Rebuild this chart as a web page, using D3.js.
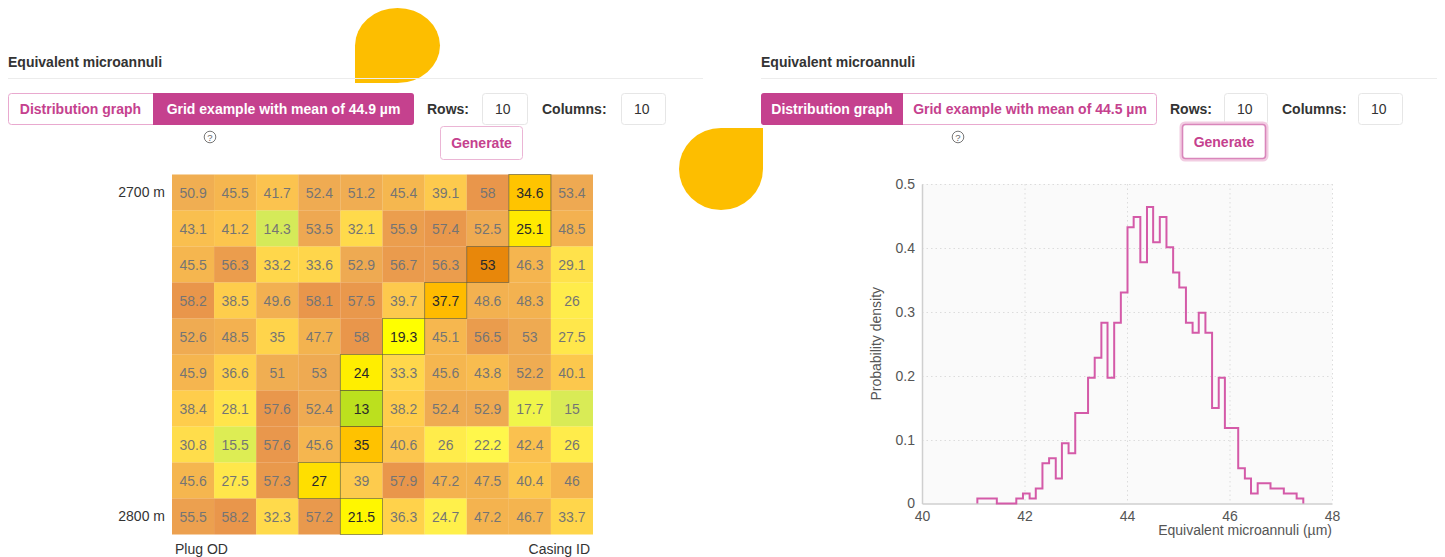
<!DOCTYPE html>
<html>
<head>
<meta charset="utf-8">
<script src="https://cdn.jsdelivr.net/npm/d3@7"></script>
<style>
  html, body { margin: 0; padding: 0; background: #fff; }
  svg { display: block; font-family: "Liberation Sans", Arial, Helvetica, sans-serif; }
</style>
</head>
<body>
<svg id="page" width="1445" height="557"></svg>
<script>
// ---- Grid example: equivalent microannuli per cell (µm), rows from 2700 m down to 2800 m
const gridRow0 = [50.9, 45.5, 41.7, 52.4, 51.2, 45.4, 39.1, 58, 34.6, 53.4];
const gridRow1 = [43.1, 41.2, 14.3, 53.5, 32.1, 55.9, 57.4, 52.5, 25.1, 48.5];
const gridRow2 = [45.5, 56.3, 33.2, 33.6, 52.9, 56.7, 56.3, 53, 46.3, 29.1];
const gridRow3 = [58.2, 38.5, 49.6, 58.1, 57.5, 39.7, 37.7, 48.6, 48.3, 26];
const gridRow4 = [52.6, 48.5, 35, 47.7, 58, 19.3, 45.1, 56.5, 53, 27.5];
const gridRow5 = [45.9, 36.6, 51, 53, 24, 33.3, 45.6, 43.8, 52.2, 40.1];
const gridRow6 = [38.4, 28.1, 57.6, 52.4, 13, 38.2, 52.4, 52.9, 17.7, 15];
const gridRow7 = [30.8, 15.5, 57.6, 45.6, 35, 40.6, 26, 22.2, 42.4, 26];
const gridRow8 = [45.6, 27.5, 57.3, 27, 39, 57.9, 47.2, 47.5, 40.4, 46];
const gridRow9 = [55.5, 58.2, 32.3, 57.2, 21.5, 36.3, 24.7, 47.2, 46.7, 33.7];
const gridRows = [gridRow0, gridRow1, gridRow2, gridRow3, gridRow4, gridRow5, gridRow6, gridRow7, gridRow8, gridRow9];
// column of the flow-path cell in each row
const pathColumns = [8, 8, 7, 6, 5, 4, 4, 4, 3, 4];
const depthLabels = ["2700 m", "", "", "", "", "", "", "", "", "2800 m"];
const sideLabels = ["Plug OD", "Casing ID"];

// colour ramp for cell values
const colorStops = [13, 15, 17.7, 19.3, 24, 27, 33, 37.7, 41.7, 45.5, 53, 58];
const colorRamp = ["#bce01e", "#c9e30f", "#eaf100", "#ffff00", "#ffee00", "#ffdf00",
                   "#ffc800", "#ffbb00", "#faab05", "#f29805", "#e8870a", "#e06a00"];

// ---- Distribution graph: histogram of equivalent microannuli
const binEdges = [41.08, 41.21, 41.33, 41.46, 41.59, 41.72, 41.84, 41.97, 42.10, 42.22,
                  42.35, 42.48, 42.61, 42.73, 42.86, 42.99, 43.12, 43.24, 43.37, 43.50,
                  43.62, 43.75, 43.88, 44.01, 44.13, 44.26, 44.39, 44.51, 44.64, 44.77,
                  44.90, 45.02, 45.15, 45.28, 45.40, 45.53, 45.66, 45.79, 45.91, 46.04,
                  46.17, 46.30, 46.42, 46.55, 46.68, 46.80, 46.93, 47.06, 47.19, 47.31, 47.44];
const density = [0.0079, 0.0079, 0.0079, 0, 0, 0, 0.0079, 0.0157, 0.0079, 0.0236,
                 0.0629, 0.0708, 0.0393, 0.0944, 0.0787, 0.1415, 0.1415, 0.1966, 0.2280, 0.2830,
                 0.1966, 0.2830, 0.3302, 0.4325, 0.4482, 0.3774, 0.4639, 0.4089, 0.4482, 0.4010,
                 0.3616, 0.3381, 0.2830, 0.2673, 0.2987, 0.2673, 0.1494, 0.1966, 0.1180, 0.1180,
                 0.0550, 0.0393, 0.0157, 0.0315, 0.0315, 0.0236, 0.0236, 0.0157, 0.0157, 0.0079];
const xTicks = [40, 42, 44, 46, 48];
const yTicks = [0, 0.1, 0.2, 0.3, 0.4, 0.5];

const PINK = "#c5418e";
const LINE_PINK = "#d45aa8";
const TEXT = "#333";
const YELLOW = "#fdbe00";

const svg = d3.select("#page");

// ---------- decorative blobs ----------
function blob(x0, y0, x1, y1, squareCorner) {
  const rx = (x1 - x0) / 2, ry = (y1 - y0) / 2, cx = x0 + rx, cy = y0 + ry;
  if (squareCorner === "bl") {
    return `M${x0},${y1}L${x0},${cy}A${rx},${ry} 0 0 1 ${cx},${y0}A${rx},${ry} 0 0 1 ${x1},${cy}A${rx},${ry} 0 0 1 ${cx},${y1}Z`;
  }
  return `M${x1},${y0}L${x1},${cy}A${rx},${ry} 0 0 1 ${cx},${y1}A${rx},${ry} 0 0 1 ${x0},${cy}A${rx},${ry} 0 0 1 ${cx},${y0}Z`;
}
svg.append("path").attr("d", blob(355, 8, 440, 83, "bl")).attr("fill", YELLOW);
svg.append("path").attr("d", blob(679, 128, 763, 210, "tr")).attr("fill", YELLOW);

// ---------- panel header & controls ----------
function panel(g, o) {
  g.append("text").attr("x", o.x).attr("y", 67).text("Equivalent microannuli")
    .attr("font-size", 14).attr("font-weight", "bold").attr("fill", TEXT);
  g.append("line").attr("x1", o.x).attr("x2", o.lineEnd).attr("y1", 78.5).attr("y2", 78.5)
    .attr("stroke", "#ececec");

  // toggle group
  const t = o.toggle;
  g.append("rect").attr("x", t[0] + 0.5).attr("y", 93.5).attr("width", t[2] - t[0] - 1).attr("height", 31)
    .attr("rx", 3).attr("fill", "#fff").attr("stroke", "#e9a9cf");
  const filledLeft = o.active === 0;
  const fx0 = filledLeft ? t[0] : t[1], fx1 = filledLeft ? t[1] : t[2];
  g.append("path").attr("fill", PINK).attr("d", filledLeft
    ? `M${fx1},93L${fx0 + 3},93Q${fx0},93 ${fx0},96L${fx0},122Q${fx0},125 ${fx0 + 3},125L${fx1},125Z`
    : `M${fx0},93L${fx1 - 3},93Q${fx1},93 ${fx1},96L${fx1},122Q${fx1},125 ${fx1 - 3},125L${fx0},125Z`);
  const labels = ["Distribution graph", o.gridLabel];
  [0, 1].forEach(i => {
    g.append("text").attr("x", (t[i] + t[i + 1]) / 2).attr("y", 114).attr("text-anchor", "middle")
      .attr("font-size", 14).attr("font-weight", "bold")
      .attr("fill", i === o.active ? "#fff" : PINK).text(labels[i]);
  });

  // help icon
  g.append("circle").attr("cx", o.help).attr("cy", 137).attr("r", 5.8)
    .attr("fill", "none").attr("stroke", "#777").attr("stroke-width", 1);
  g.append("text").attr("x", o.help).attr("y", 140.6).attr("text-anchor", "middle")
    .attr("font-size", 9.5).attr("fill", "#666").text("?");

  // rows / columns inputs
  const c = o.ctrl;
  g.append("text").attr("x", c[0]).attr("y", 114).text("Rows:")
    .attr("font-size", 14).attr("font-weight", "bold").attr("fill", TEXT);
  g.append("text").attr("x", c[3]).attr("y", 114).text("Columns:")
    .attr("font-size", 14).attr("font-weight", "bold").attr("fill", TEXT);
  [[c[1], c[2]], [c[4], c[5]]].forEach(([a, b]) => {
    g.append("rect").attr("x", a + 0.5).attr("y", 93.5).attr("width", b - a - 1).attr("height", 31)
      .attr("rx", 3).attr("fill", "#fff").attr("stroke", "#e6e6e6");
    g.append("text").attr("x", a + 13).attr("y", 114).text("10")
      .attr("font-size", 14).attr("fill", TEXT);
  });

  // generate button
  const b = o.gen;
  if (o.focus) {
    g.append("rect").attr("x", b[0] - 1).attr("y", b[1] - 1).attr("width", b[2] - b[0] + 2).attr("height", b[3] - b[1] + 2)
      .attr("rx", 4).attr("fill", "none").attr("stroke", "#f2cde2").attr("stroke-width", 3);
  }
  g.append("rect").attr("x", b[0] + 0.5).attr("y", b[1] + 0.5).attr("width", b[2] - b[0] - 1).attr("height", b[3] - b[1] - 1)
    .attr("rx", 3).attr("fill", "#fff").attr("stroke", o.focus ? "#d986bb" : "#ebb5d5")
    .attr("stroke-width", o.focus ? 1.6 : 1);
  g.append("text").attr("x", (b[0] + b[2]) / 2).attr("y", (b[1] + b[3]) / 2 + 5).attr("text-anchor", "middle")
    .attr("font-size", 14).attr("font-weight", "bold").attr("fill", PINK).text("Generate");
}

panel(svg.append("g"), {
  x: 8, lineEnd: 703, toggle: [8, 153, 414], active: 1,
  gridLabel: "Grid example with mean of 44.9 µm", help: 210,
  ctrl: [427, 482, 528, 542, 621, 666], gen: [440, 126, 523, 160], focus: false
});
panel(svg.append("g"), {
  x: 761, lineEnd: 1437, toggle: [761, 903, 1157], active: 0,
  gridLabel: "Grid example with mean of 44.5 µm", help: 958,
  ctrl: [1170, 1224, 1268, 1282, 1358, 1403], gen: [1182, 124, 1266, 159], focus: true
});

// ---------- heat-map grid ----------
const color = d3.scaleLinear().domain(colorStops).range(colorRamp).interpolate(d3.interpolateRgb).clamp(true);
const gx = d3.scaleBand().domain(d3.range(gridRow0.length)).range([172, 593]);
const gy = d3.scaleBand().domain(d3.range(gridRows.length)).range([174.5, 534.5]);

const cells = [];
gridRows.forEach((row, r) => row.forEach((v, c) => cells.push({ r, c, v, onPath: pathColumns[r] === c })));

const grid = svg.append("g");
const cellG = grid.selectAll("g.cell").data(cells.sort((a, b) => a.onPath - b.onPath)).join("g")
  .attr("class", "cell")
  .attr("transform", d => `translate(${gx(d.c)},${gy(d.r)})`)
  .attr("opacity", d => d.onPath ? 1 : 0.7);
cellG.append("rect")
  .attr("width", gx.bandwidth()).attr("height", gy.bandwidth())
  .attr("fill", d => color(d.v))
  .attr("stroke", d => d.onPath ? "rgba(70,65,40,0.55)" : "none")
  .attr("stroke-width", 1);
cellG.append("text")
  .attr("x", gx.bandwidth() / 2).attr("y", gy.bandwidth() / 2 + 5)
  .attr("text-anchor", "middle").attr("font-size", 14)
  .attr("fill", d => d.onPath ? "#2a2a2a" : "#3a3a3a")
  .text(d => d.v);

// depth labels
const depthAxis = d3.axisLeft(gy).tickValues([0, 9]).tickSize(0).tickPadding(7)
  .tickFormat(i => depthLabels[i]);
const da = svg.append("g").attr("transform", "translate(172,0)").call(depthAxis);
da.select(".domain").remove();
da.selectAll("text").attr("font-size", 14).attr("fill", TEXT).attr("font-family", null);

svg.append("text").attr("x", gx(0) + 3).attr("y", 554).attr("font-size", 14).attr("fill", TEXT).text(sideLabels[0]);
svg.append("text").attr("x", gx.range()[1] - 3).attr("y", 554).attr("text-anchor", "end")
  .attr("font-size", 14).attr("fill", TEXT).text(sideLabels[1]);

// ---------- histogram ----------
const hx = d3.scaleLinear().domain([40, 48]).range([922, 1332]);
const hy = d3.scaleLinear().domain([0, 0.5]).range([503.5, 184]);
const hist = svg.append("g");

hist.append("rect").attr("x", hx(40)).attr("y", hy(0.5)).attr("width", hx(48) - hx(40)).attr("height", hy(0) - hy(0.5))
  .attr("fill", "#fafafa");

// dotted grid
hist.append("g").selectAll("line").data(xTicks.slice(1)).join("line")
  .attr("x1", d => hx(d) + 0.5).attr("x2", d => hx(d) + 0.5).attr("y1", hy(0.5)).attr("y2", hy(0))
  .attr("stroke", "#dcdcdc").attr("stroke-dasharray", "1.5,3");
hist.append("g").selectAll("line").data(yTicks.slice(1)).join("line")
  .attr("y1", d => Math.round(hy(d)) + 0.5).attr("y2", d => Math.round(hy(d)) + 0.5).attr("x1", hx(40)).attr("x2", hx(48))
  .attr("stroke", "#dcdcdc").attr("stroke-dasharray", "1.5,3");

const xAxis = d3.axisBottom(hx).tickValues(xTicks).tickSize(0).tickPadding(8).tickFormat(d3.format("d"));
const xa = hist.append("g").attr("transform", `translate(0,${hy(0)})`).call(xAxis);
const yAxis = d3.axisLeft(hy).tickValues(yTicks).tickSize(0).tickPadding(7).tickFormat(d3.format("~g"));
const ya = hist.append("g").attr("transform", `translate(${hx(40)},0)`).call(yAxis);
[xa, ya].forEach(a => {
  a.select(".domain").attr("stroke", "#cfcfcf").attr("stroke-width", 1.5);
  a.selectAll("text").attr("font-size", 14).attr("fill", "#555").attr("font-family", null);
});

hist.append("text").attr("x", hx(48)).attr("y", 535).attr("text-anchor", "end")
  .attr("font-size", 14).attr("fill", "#555").text("Equivalent microannuli (µm)");
hist.append("text").attr("transform", `translate(881,${(hy(0) + hy(0.5)) / 2}) rotate(-90)`)
  .attr("text-anchor", "middle").attr("font-size", 14).attr("fill", "#555").text("Probability density");

// step outline
const pts = [[binEdges[0], 0]];
density.forEach((d, i) => { pts.push([binEdges[i], d]); pts.push([binEdges[i + 1], d]); });
pts.push([binEdges[binEdges.length - 1], 0]);
hist.append("path")
  .attr("d", d3.line().x(p => hx(p[0])).y(p => hy(p[1]))(pts))
  .attr("fill", "none").attr("stroke", LINE_PINK).attr("stroke-width", 2).attr("stroke-linejoin", "miter");
</script>
</body>
</html>
